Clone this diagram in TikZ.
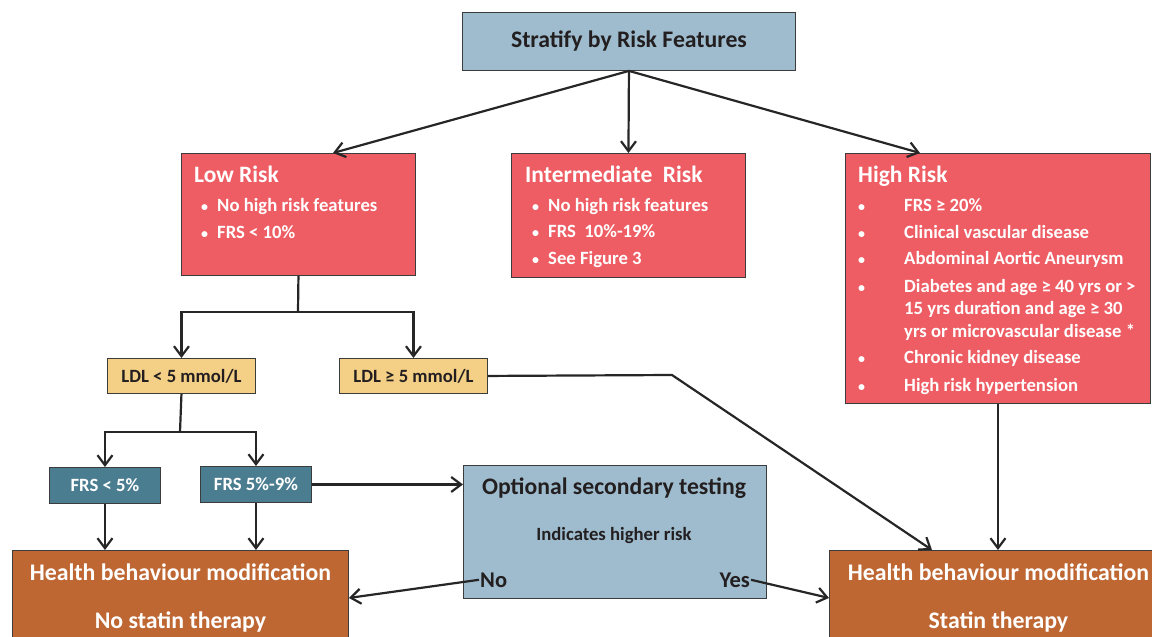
\documentclass[tikz,border=0pt]{standalone}
\usepackage{fontspec}
\setmainfont{Carlito}
\usetikzlibrary{arrows.meta,calc,positioning}
\definecolor{stratblue}{RGB}{158,188,206}
\definecolor{riskred}{RGB}{238,93,99}
\definecolor{ldltan}{RGB}{244,207,134}
\definecolor{frsteal}{RGB}{75,125,145}
\definecolor{actionbrown}{RGB}{191,103,51}
\definecolor{edgegray}{RGB}{60,60,60}
\definecolor{textdark}{RGB}{35,31,32}

\begin{document}
\begin{tikzpicture}[
    x=1pt, y=-1pt,
    box/.style={draw=edgegray, line width=0.9pt, anchor=north west, inner sep=0pt},
    risk box/.style={box, fill=riskred},
    ldl box/.style={box, fill=ldltan, minimum width=148, minimum height=35, text=textdark, font=\fontsize{18.7}{22}\selectfont\bfseries},
    frs box/.style={box, fill=frsteal, minimum width=111, minimum height=36, text=white, font=\fontsize{18.7}{22}\selectfont\bfseries},
    action box/.style={box, fill=actionbrown, minimum height=95, text=white, align=center, font=\fontsize{23.8}{28}\selectfont\bfseries},
    link/.style={line width=2.2pt, draw=black!85},
    flow/.style={link, -{Straight Barb[length=10pt, width=15pt]}},
    title text/.style={font=\fontsize{23.5}{28}\selectfont\bfseries, text=white, anchor=base west, inner sep=0pt},
    item text/.style={font=\fontsize{18.7}{22.5}\selectfont\bfseries, text=white, anchor=base west, inner sep=0pt},
    dot/.style={item text, font=\fontsize{14}{16}\selectfont\bfseries}
]

% Page frame
\clip (0,0) rectangle (1152,637);

% === Top: stratification ===
\node[box, fill=stratblue, minimum width=333, minimum height=58, text=textdark, font=\fontsize{23.7}{28}\selectfont\bfseries] (strat) at (462,12) {Stratify by Risk Features};

% === Risk groups ===
\node[risk box, minimum width=234, minimum height=122] (low) at (181,153) {};
\node[title text] (lowtitle) at (194,182) {Low Risk};
\node[dot] (lowdot1) at (201,211) {\textbullet};
\node[item text] (lowitem1) at (217,211) {No high risk features};
\node[dot] (lowdot2) at (201,238) {\textbullet};
\node[item text] (lowitem2) at (217,238) {FRS < 10\%};

\node[risk box, minimum width=234, minimum height=124] (mid) at (511,153) {};
\node[title text] (midtitle) at (525,182) {Intermediate\ \ Risk};
\node[dot] (middot1) at (532,211) {\textbullet};
\node[item text] (miditem1) at (548,211) {No high risk features};
\node[dot] (middot2) at (532,237) {\textbullet};
\node[item text] (miditem2) at (548,237) {FRS\ \ 10\%-19\%};
\node[dot] (middot3) at (532,264) {\textbullet};
\node[item text] (miditem3) at (548,264) {See Figure 3};

\node[risk box, minimum width=305, minimum height=250] (high) at (845,153) {};
\node[title text] (hightitle) at (858,182) {High Risk};
\node[dot] (highdot1) at (858,211) {\textbullet};
\node[item text] (highitem1) at (904,211) {FRS ≥ 20\%};
\node[dot] (highdot2) at (858,238) {\textbullet};
\node[item text] (highitem2) at (904,238) {Clinical vascular disease};
\node[dot] (highdot3) at (858,264) {\textbullet};
\node[item text] (highitem3) at (904,264) {Abdominal Aortic Aneurysm};
\node[dot] (highdot4) at (858,292) {\textbullet};
\node[item text, align=left] (highitem4) at (904,337) {Diabetes and age ≥ 40 yrs or >\\15 yrs duration and age ≥ 30\\yrs or microvascular disease *};
\node[dot] (highdot5) at (858,363) {\textbullet};
\node[item text] (highitem5) at (904,363) {Chronic kidney disease};
\node[dot] (highdot6) at (858,391) {\textbullet};
\node[item text] (highitem6) at (904,391) {High risk hypertension};

% === LDL and FRS split ===
\node[ldl box] (ldllo) at (107,358) {LDL < 5 mmol/L};
\node[ldl box] (ldlhi) at (339,358) {LDL ≥ 5 mmol/L};
\node[frs box] (frslo) at (49,467) {FRS < 5\%};
\node[frs box] (frsmid) at (200,466) {FRS 5\%-9\%};

% === Optional testing ===
\node[box, fill=stratblue, minimum width=303, minimum height=133] (opt) at (463,465) {};
\node[font=\fontsize{23.7}{28}\selectfont\bfseries, text=textdark, anchor=base, inner sep=0pt] (opttitle) at (614,494) {Optional secondary testing};
\node[font=\fontsize{18.7}{22}\selectfont\bfseries, text=textdark, anchor=base, inner sep=0pt] (optsub) at (614,540) {Indicates higher risk};
\node[font=\fontsize{22.5}{26}\selectfont\bfseries, text=textdark, anchor=base west, inner sep=1pt] (no) at (479,587) {No};
\node[font=\fontsize{22.5}{26}\selectfont\bfseries, text=textdark, anchor=base east, inner sep=1pt] (yes) at (751,587) {Yes};

% === Actions ===
\node[action box, minimum width=336] (hbmno) at (12,550) {Health behaviour modification\\[20pt]No statin therapy};
\node[action box, minimum width=338] (hbmyes) at (829,550) {Health behaviour modification\\[20pt]Statin therapy};

% === Connectors ===
\draw[flow] (strat.south) -- ([xshift=152]low.north west);
\draw[flow] (strat.south) -- (mid.north);
\draw[flow] (strat.south) -- ([xshift=75]high.north west);

\coordinate (lowsplit) at (298,312);
\draw[link] (low.south) -- (lowsplit);
\draw[flow] (lowsplit) -| (ldllo.north);
\draw[flow] (lowsplit) -| (ldlhi.north);

\coordinate (ldlsplit) at (180,432);
\draw[link] (ldllo.south) -- (ldlsplit);
\draw[flow] (ldlsplit) -| (frslo.north);
\draw[flow] (ldlsplit) -| (frsmid.north);

\draw[flow] (frslo.south) -- (frslo.south |- hbmno.north);
\draw[flow] (frsmid.south) -- (frsmid.south |- hbmno.north);
\draw[flow] (frsmid.east) -- (opt.west |- frsmid.east);

\coordinate (ldlbend) at (672,375);
\draw[flow] (ldlhi.east) -- (ldlbend) -- ([xshift=103]hbmyes.north west);
\draw[flow] (high.south) -- (high.south |- hbmyes.north);

\draw[flow] (no.west) -- (hbmno.east);
\draw[flow] (yes.east) -- (hbmyes.west);

\end{tikzpicture}
\end{document}
